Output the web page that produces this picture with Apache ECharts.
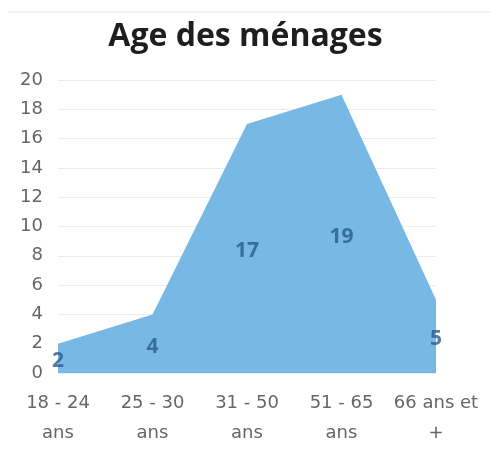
<!DOCTYPE html>
<html><head><meta charset="utf-8">
<script src="https://cdn.jsdelivr.net/npm/echarts@6/dist/echarts.min.js"></script>
<style>html,body{margin:0;padding:0;background:#fff}#c{width:491px;height:457px}</style>
</head><body><div id="c"></div>
<script>
const categories = ["18 - 24\nans", "25 - 30\nans", "31 - 50\nans", "51 - 65\nans", "66 ans et\n+"];
const values = [2, 4, 17, 19, 5];
const yTicks = { min: 0, max: 20, interval: 2 };
const titleText = "Age des ménages";

const chart = echarts.init(document.getElementById('c'));
chart.setOption({
  animation: false,
  title: { text: titleText, left: 'center', top: 16,
    textStyle: { fontFamily: 'Open Sans', fontWeight: 'bold', fontSize: 32, color: '#1e1e1e' } },
  graphic: [{ type: 'line', shape: { x1: 8, y1: 12, x2: 491, y2: 12 }, style: { stroke: '#e6e6e6', lineWidth: 1 } }],
  grid: { left: 58, right: 55, top: 80, bottom: 84 },
  xAxis: { type: 'category', data: categories, boundaryGap: false,
    axisLine: { show: false }, axisTick: { show: false },
    axisLabel: { color: '#666666', fontFamily: 'DejaVu Sans', fontSize: 18, lineHeight: 30, margin: 15, interval: 0 } },
  yAxis: { type: 'value', min: yTicks.min, max: yTicks.max, interval: yTicks.interval,
    axisLine: { show: false }, axisTick: { show: false },
    axisLabel: { color: '#666666', fontFamily: 'DejaVu Sans', fontSize: 18, margin: 15 },
    splitLine: { lineStyle: { color: '#ececec', width: 1 } } },
  series: [
    { type: 'line', data: values, showSymbol: false, symbol: 'none', z: 2,
      lineStyle: { width: 0 }, areaStyle: { color: '#78B8E4', opacity: 1 } },
    { type: 'scatter', data: values.map((v, i) => [i, v / 2 - 0.2]), symbolSize: 0, z: 10,
      label: { show: true, position: 'inside', formatter: p => values[p.dataIndex],
        color: '#245d8c', fontWeight: 'bold', fontSize: 21, fontFamily: 'Open Sans' } }
  ]
});
</script></body></html>
